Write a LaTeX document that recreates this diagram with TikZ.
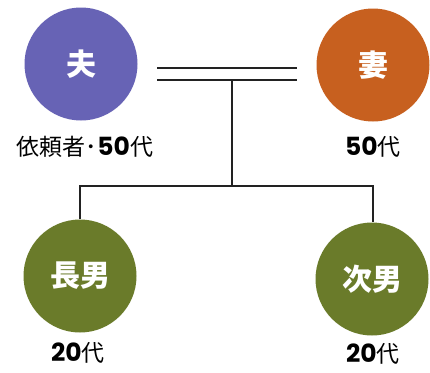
\documentclass[tikz,border=0pt]{standalone}
\usepackage{fontspec}
\newfontfamily\jp{Noto Sans CJK JP}
\newfontfamily\num{Poppins}
\newcommand{\dg}[1]{{\num\bfseries\fontsize{25}{25}\selectfont #1}}
\definecolor{husband}{HTML}{6763B5}
\definecolor{wife}{HTML}{C7601F}
\definecolor{son}{HTML}{6A7B2A}
\definecolor{linec}{HTML}{222222}
\begin{document}
\begin{tikzpicture}[x=1pt,y=-1pt,
  person/.style={circle,minimum size=113pt,inner sep=0pt,text=white,font=\jp\bfseries\fontsize{30}{30}\selectfont},
  lbl/.style={inner sep=0pt,text=black,font=\jp\fontsize{23}{23}\selectfont},
  link/.style={line width=1.3pt,draw=linec}]
\useasboundingbox[fill=white] (0,0) rectangle (430,372);
\node[person,fill=husband] (hus) at (81,64) {夫};
\node[person,fill=wife] (wif) at (373,65) {妻};
\node[person,fill=son] (s1) at (80,276) {長男};
\node[person,fill=son] (s2) at (372,279) {次男};
\node[lbl] (lh) at (85,147) {依頼者･\dg{50}代};
\node[lbl] (lw) at (373,147) {\dg{50}代};
\node[lbl] (l1) at (78,353) {\dg{20}代};
\node[lbl] (l2) at (373,354) {\dg{20}代};
\coordinate (m1a) at (157,68);
\coordinate (m1b) at (297,68);
\coordinate (m2a) at (157,80);
\coordinate (m2b) at (297,80);
\coordinate (drop) at (232,80);
\coordinate (bar) at (232,186);
\coordinate (barl) at (80,186);
\coordinate (barr) at (373,186);
\draw[link] (m1a) -- (m1b);
\draw[link] (m2a) -- (m2b);
\draw[link] (drop) -- (bar);
\draw[link] (s1.north) -- (barl) -- (barr) -- (barr |- s2.north);
\end{tikzpicture}
\end{document}
